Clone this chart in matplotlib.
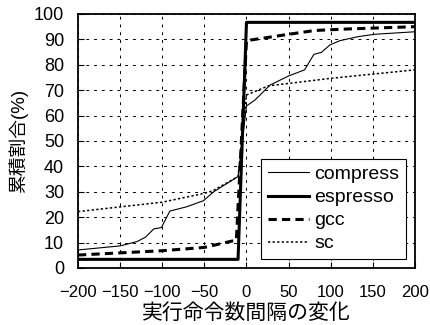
import matplotlib
matplotlib.use("Agg")
import matplotlib.pyplot as plt

plt.rcParams['font.family'] = ['Liberation Sans', 'Noto Sans CJK JP', 'DejaVu Sans']

compress_x = [-200, -150, -130, -120, -110, -101, -91, -71, -51, -39, -10, 0, 10, 28, 50, 69, 80, 89, 99, 111, 133, 152, 200]
compress_y = [7.1, 8.7, 10.4, 12.1, 15.4, 15.9, 22.4, 24.1, 26.5, 30, 36, 63.8, 66.1, 72, 75.6, 78, 84.1, 84.9, 87.8, 89.5, 91.1, 92, 93.0]

espresso_x = [-200, -10, 0, 200]
espresso_y = [3.4, 3.4, 96.7, 96.7]

gcc_x = [-200, -100, -50, -12, 0, 50, 81, 120, 200]
gcc_y = [5.1, 6.8, 8.1, 11, 89.5, 92, 93.5, 94.1, 95]

sc_x = [-200, -100, -50, -40, -10, 0, 26, 101, 200]
sc_y = [22.2, 25.9, 29.4, 30.4, 36, 68.1, 71.7, 74.7, 78]

fig = plt.figure(figsize=(4.3, 3.25), dpi=100)
ax = fig.add_axes([0.1814, 0.1754, 0.7836, 0.7816])

ax.plot(compress_x, compress_y, color='black', linewidth=0.8, label='compress')
ax.plot(espresso_x, espresso_y, color='black', linewidth=2.2, label='espresso')
ax.plot(gcc_x, gcc_y, color='black', linewidth=2.2, dashes=(2.7, 1.7), label='gcc')
ax.plot(sc_x, sc_y, color='black', linewidth=1.1, dashes=(1.5, 1.5), label='sc')

ax.set_xlim(-200, 200)
ax.set_ylim(0, 100)
ax.set_xticks(range(-200, 201, 50))
ax.set_yticks(range(0, 101, 10))
ax.tick_params(direction='in', length=4, width=0.8, labelsize=12, colors='black')
ax.tick_params(axis='x', labelsize=12, pad=12)
ax.tick_params(axis='y', labelsize=13, pad=10)
ax.grid(True, color='black', linewidth=0.7, dashes=(3, 5))
for s in ax.spines.values():
    s.set_linewidth(1.3)

ax.set_xlabel('実行命令数間隔の変化', fontsize=15, va='top')
ax.xaxis.set_label_coords(0.5, -0.138)
ax.set_ylabel('累積割合(%)', fontsize=13.5, va='center')
ax.yaxis.set_label_coords(-0.178, 0.5)

leg = ax.legend(loc='lower right', fontsize=14, handlelength=2.1, handletextpad=0.3,
                fancybox=False, edgecolor='black', framealpha=1, borderaxespad=0.45,
                labelspacing=0.28, borderpad=0.35)
leg.get_frame().set_linewidth(0.8)

fig.savefig('out.png', dpi=100)
